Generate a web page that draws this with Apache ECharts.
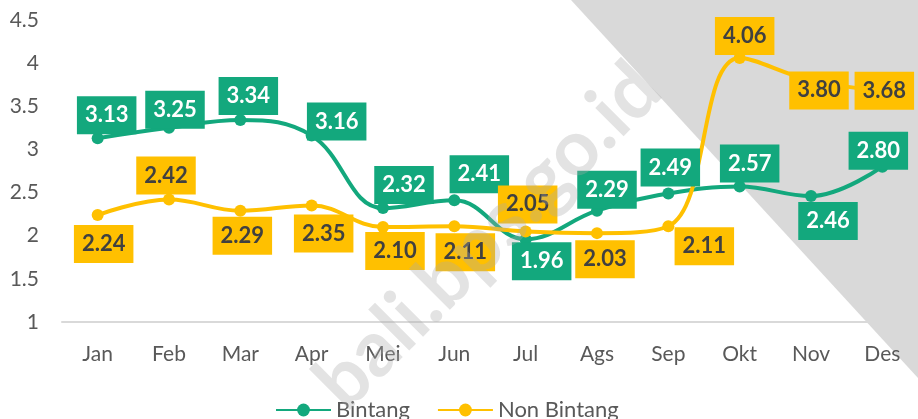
<!DOCTYPE html>
<html>
<head>
<meta charset="utf-8">
<script src="https://cdn.jsdelivr.net/npm/echarts@6/dist/echarts.min.js"></script>
<style>
  html, body { margin: 0; padding: 0; background: #fff; }
  #chart { width: 918px; height: 419px; }
</style>
</head>
<body>
<div id="chart"></div>
<script>
// bulan
var months = ['Jan', 'Feb', 'Mar', 'Apr', 'Mei', 'Jun', 'Jul', 'Ags', 'Sep', 'Okt', 'Nov', 'Des']
var bintang = [3.13, 3.25, 3.34, 3.16, 2.32, 2.41, 1.96, 2.29, 2.49, 2.57, 2.46, 2.80]
var nonBintang = [2.24, 2.42, 2.29, 2.35, 2.10, 2.11, 2.05, 2.03, 2.11, 4.06, 3.80, 3.68]

// letak label (geser dari titik, px)
var bintangLabelShift = [[9, -23], [6, -18], [8, -24], [25, -14], [21, -23], [25, -26], [16, 22], [10, -21], [2, -26], [10, -23], [17, 25], [-4, -16]]
var nonBintangLabelShift = [[6, 29], [-3, -24], [2, 25], [12, 28], [12, 24], [11, 26], [2, -27], [8, 26], [36, 20], [5, -22], [8, 10], [2, 0]]

var GREEN = '#13a87d'
var YELLOW = '#ffc000'

function buildData (values, shifts) {
  var out = []
  for (var i = 0; i < values.length; i++) {
    out.push({ value: values[i], label: { offset: shifts[i] } })
  }
  return out
}

var chart = echarts.init(document.getElementById('chart'))

var option = {
  backgroundColor: '#fff',
  animation: false,
  grid: {
    left: 62,
    right: -8,
    top: 20,
    bottom: 97
  },
  legend: {
    left: 270,
    top: 394,
    itemWidth: 55,
    itemHeight: 16,
    itemGap: 27,
    textStyle: {
      fontFamily: 'Lato',
      fontSize: 22,
      color: '#595959'
    },
    data: ['Bintang', 'Non Bintang']
  },
  xAxis: {
    type: 'category',
    data: months,
    boundaryGap: true,
    axisLine: { lineStyle: { color: '#d9d9d9', width: 2 } },
    axisTick: { show: false },
    axisLabel: {
      margin: 22,
      fontFamily: 'Lato',
      fontSize: 21,
      color: '#595959'
    }
  },
  yAxis: {
    type: 'value',
    min: 1,
    max: 4.5,
    interval: 0.5,
    axisLine: { show: false },
    axisTick: { show: false },
    splitLine: { show: false },
    axisLabel: {
      margin: 23,
      fontFamily: 'Lato',
      fontSize: 21,
      color: '#595959'
    }
  },
  graphic: [
    {
      type: 'polygon',
      z: -10,
      silent: true,
      shape: { points: [[571, 0], [918, 0], [918, 378]] },
      style: { fill: '#d9d9d9' }
    },
    {
      type: 'text',
      z: 100,
      silent: true,
      x: 488,
      y: 236,
      rotation: Math.PI / 4,
      style: {
        text: 'bali.bps.go.id',
        font: 'bold 78px Lato',
        fill: 'rgba(170,170,170,0.33)',
        align: 'center',
        verticalAlign: 'middle'
      }
    }
  ],
  series: [
    {
      name: 'Bintang',
      type: 'line',
      smooth: 0.4,
      data: buildData(bintang, bintangLabelShift),
      color: GREEN,
      symbol: 'circle',
      symbolSize: 12,
      lineStyle: { width: 4, color: GREEN },
      itemStyle: { color: GREEN },
      label: {
        show: true,
        position: 'inside',
        formatter: function (p) { return p.value.toFixed(2) },
        backgroundColor: GREEN,
        color: '#fff',
        fontFamily: 'Lato',
        fontWeight: 'bold',
        fontSize: 22,
        lineHeight: 22,
        padding: [8, 8]
      }
    },
    {
      name: 'Non Bintang',
      type: 'line',
      smooth: 0.4,
      data: buildData(nonBintang, nonBintangLabelShift),
      color: YELLOW,
      symbol: 'circle',
      symbolSize: 12,
      lineStyle: { width: 4, color: YELLOW },
      itemStyle: { color: YELLOW },
      label: {
        show: true,
        position: 'inside',
        formatter: function (p) { return p.value.toFixed(2) },
        backgroundColor: YELLOW,
        color: '#404040',
        fontFamily: 'Lato',
        fontWeight: 'bold',
        fontSize: 22,
        lineHeight: 22,
        padding: [8, 8]
      }
    }
  ]
}

chart.setOption(option)
</script>
</body>
</html>
